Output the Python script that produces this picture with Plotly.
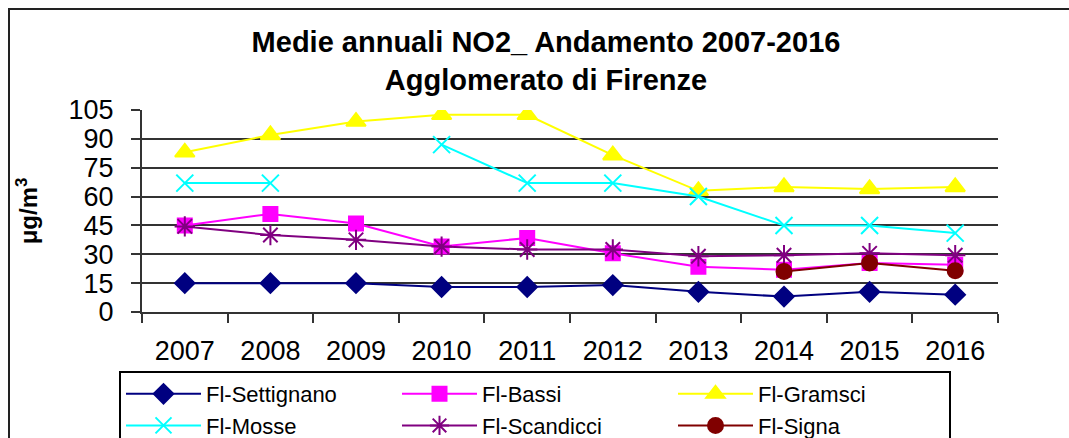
import plotly.graph_objects as go

anni = ["2007", "2008", "2009", "2010", "2011", "2012", "2013", "2014", "2015", "2016"]

settignano = [15, 15, 15, 13, 13, 14, 10.5, 8, 10.5, 9]
bassi = [45, 51, 46, 34, 38.5, 30.5, 23.5, 22, 25.5, 24.5]
gramsci = [83, 92, 99, 102.5, 102.5, 81.5, 63, 65, 64, 65]
mosse = [67, 67, None, 87, 67, 67, 60, 45, 45, 41]
scandicci = [44.5, 40, 37.5, 34, 32.5, 32.5, 29, 29.5, 30.5, 29.5]
signa = [None, None, None, None, None, None, None, 21, 25.5, 21.5]

serie = [
    ("Fl-Settignano", settignano, "#000080", "diamond", 15),
    ("Fl-Bassi", bassi, "#FF00FF", "square", 14),
    ("Fl-Gramsci", gramsci, "#FFFF00", "triangle-up", 17),
    ("Fl-Mosse", mosse, "#00FFFF", "x-thin-open", 17),
    ("Fl-Scandicci", scandicci, "#800080", "asterisk-open", 17),
    ("Fl-Signa", signa, "#800000", "circle", 15),
]

# plot area in pixels (margins)
L, R, T, B = 142, 998, 110, 312
W, H = 1069, 438


def px(x):
    return (x - L) / (R - L)


def py(y):
    return (B - y) / (B - T)


fig = go.Figure()
for nome, valori, colore, simbolo, dim in serie:
    fig.add_trace(go.Scatter(
        x=anni, y=valori, name=nome, mode="lines+markers",
        connectgaps=False,
        line=dict(color=colore, width=2),
        marker=dict(symbol=simbolo, size=dim, color=colore,
                    line=dict(color=colore, width=2)),
    ))

font = "Liberation Sans, Arial, sans-serif"

fig.update_layout(
    width=W, height=H,
    margin=dict(l=L, r=W - R, t=T, b=H - B, autoexpand=False),
    paper_bgcolor="white", plot_bgcolor="white",
    font=dict(family=font, color="black"),
    title=dict(
        text="<b>Medie annuali NO2_ Andamento 2007-2016<br>Agglomerato di Firenze</b>",
        x=546 / W, xanchor="center", yref="container", y=1 - 52 / H, yanchor="middle",
        font=dict(size=29, family=font, color="black"),
    ),
    xaxis=dict(
        type="category", range=[-0.5, 9.5],
        showgrid=False, showline=True, linecolor="#333", linewidth=2,
        ticks="outside", tickson="boundaries", ticklen=9, tickwidth=2, tickcolor="#333",
        tickfont=dict(size=27), ticklabelstandoff=14,
    ),
    yaxis=dict(
        range=[0, 105], dtick=15, tick0=0,
        showgrid=True, gridcolor="#333", gridwidth=2, zeroline=False,
        showline=True, linecolor="#333", linewidth=2,
        ticks="outside", ticklen=9, tickwidth=2, tickcolor="#333",
        tickfont=dict(size=27), ticklabelstandoff=12,
        title=dict(text="<b>μg/m<sup>3</sup></b>", font=dict(size=24), standoff=24),
    ),
    legend=dict(
        orientation="h", x=px(119), y=py(371), xanchor="left", yanchor="top",
        entrywidth=186, entrywidthmode="pixels", itemwidth=75,
        font=dict(size=22, family=font, color="black"),
        bgcolor="white", bordercolor="black", borderwidth=2,
        tracegroupgap=0,
    ),
    shapes=[dict(
        type="rect", xref="paper", yref="paper",
        x0=px(9), x1=px(1090), y0=py(460), y1=py(9),
        line=dict(color="#222", width=2), layer="below",
    )],
)

fig.write_html("out.html", config={"displayModeBar": False},
               post_script="document.body.style.margin='0px';")
